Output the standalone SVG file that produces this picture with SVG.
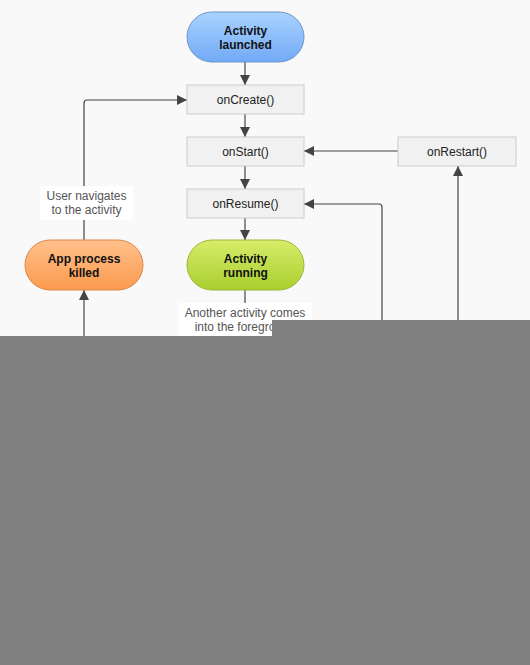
<svg xmlns="http://www.w3.org/2000/svg" width="530" height="665" viewBox="0 0 530 665">
<defs>
<linearGradient id="gBlue" x1="0" y1="0" x2="0" y2="1"><stop offset="0" stop-color="#a9d2ff"/><stop offset="1" stop-color="#72aaf6"/></linearGradient>
<linearGradient id="gGreen" x1="0" y1="0" x2="0" y2="1"><stop offset="0" stop-color="#d8ec6a"/><stop offset="1" stop-color="#a8cf2e"/></linearGradient>
<linearGradient id="gOrange" x1="0" y1="0" x2="0" y2="1"><stop offset="0" stop-color="#ffc08a"/><stop offset="1" stop-color="#fb9a4e"/></linearGradient>
<marker id="arr" viewBox="0 0 10 10" refX="10" refY="5" markerWidth="10" markerHeight="10" markerUnits="userSpaceOnUse" orient="auto"><path d="M0,0 L10,5 L0,10 z" fill="#444"/></marker>
<style>
.box{fill:#f1f1f1;stroke:#cccccc;stroke-width:1}
.t{font-family:"Liberation Sans",Arial,sans-serif;font-size:12px;fill:#222;text-anchor:middle}
.b{font-weight:bold;fill:#111}
.lbl{font-family:"Liberation Sans",Arial,sans-serif;font-size:12px;fill:#555;text-anchor:middle}
.c{fill:none;stroke:#444;stroke-width:1.2}
</style>
</defs>
<rect width="530" height="665" fill="#f9f9f9"/>
<g id="connectors">
<path class="c" d="M245,62 V85" marker-end="url(#arr)"/>
<path class="c" d="M245,114 V137" marker-end="url(#arr)"/>
<path class="c" d="M245,166 V189" marker-end="url(#arr)"/>
<path class="c" d="M245,218 V240" marker-end="url(#arr)"/>
<path class="c" d="M245,290 V304"/>
<path class="c" d="M398,151 H304" marker-end="url(#arr)"/>
<path class="c" d="M382,330 V207 Q382,204 379,204 H304" marker-end="url(#arr)"/>
<path class="c" d="M458,330 V166" marker-end="url(#arr)"/>
<path class="c" d="M84,240 V103 Q84,100 87,100 H187" marker-end="url(#arr)"/>
<path class="c" d="M84,340 V290" marker-end="url(#arr)"/>
</g>
<g id="label-navigate">
<rect x="40" y="186" width="93" height="34" fill="#ffffff"/>
<text class="lbl" x="86.5" y="200">User navigates</text>
<text class="lbl" x="86.5" y="214">to the activity</text>
</g>
<g id="label-foreground">
<rect x="178" y="303" width="134" height="34" fill="#ffffff"/>
<text class="lbl" x="245" y="317">Another activity comes</text>
<text class="lbl" x="245" y="331">into the foreground</text>
</g>
<g id="activity-launched">
<rect x="187" y="12" width="117" height="50" rx="25" fill="url(#gBlue)" stroke="#6f95c9"/>
<text class="t b" x="245.5" y="35">Activity</text>
<text class="t b" x="245.5" y="49">launched</text>
</g>
<g id="onCreate">
<rect class="box" x="187" y="85" width="117" height="29"/>
<text class="t" x="245.5" y="104">onCreate()</text>
</g>
<g id="onStart">
<rect class="box" x="187" y="137" width="117" height="29"/>
<text class="t" x="245.5" y="156">onStart()</text>
</g>
<g id="onResume">
<rect class="box" x="187" y="189" width="117" height="29"/>
<text class="t" x="245.5" y="208">onResume()</text>
</g>
<g id="activity-running">
<rect x="187" y="240" width="117" height="50" rx="25" fill="url(#gGreen)" stroke="#9bb83a"/>
<text class="t b" x="245.5" y="263">Activity</text>
<text class="t b" x="245.5" y="277">running</text>
</g>
<g id="onRestart">
<rect class="box" x="398" y="137" width="118" height="29"/>
<text class="t" x="457" y="156">onRestart()</text>
</g>
<g id="app-process-killed">
<rect x="25" y="240" width="118" height="50" rx="25" fill="url(#gOrange)" stroke="#d9884a"/>
<text class="t b" x="84" y="263">App process</text>
<text class="t b" x="84" y="277">killed</text>
</g>
<rect x="272" y="320" width="258" height="16" fill="#808080"/>
<rect x="0" y="336" width="530" height="329" fill="#808080"/>
</svg>
